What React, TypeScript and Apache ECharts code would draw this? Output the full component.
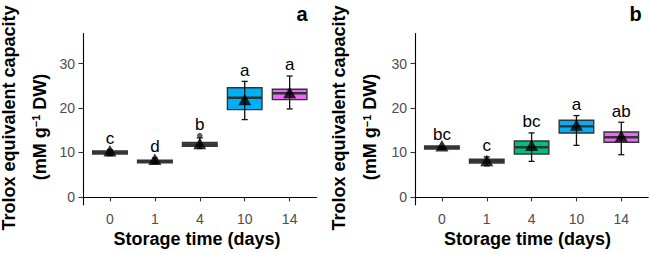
import React, { useEffect, useRef } from "react";
import * as echarts from "echarts";

// Storage days shown on the x axis
const days = ["0", "1", "4", "10", "14"];
// Fill colour per storage day
const dayFills = ["#F8766D", "#A3A500", "#00BF7D", "#00B0F6", "#E76BF3"];
const yTicks = [0, 10, 20, 30];

// Panel a: box statistics, error bars, means, letters, outliers
const q1A = [9.65, 7.65, 11.4, 19.65, 21.89];
const medianA = [10.0, 7.95, 11.8, 22.3, 23.3];
const q3A = [10.35, 8.26, 12.23, 24.55, 24.23];
const errLowA = [9.3, 7.5, 10.9, 17.4, 19.8];
const errHighA = [10.65, 8.75, 13.3, 26.0, 27.2];
const meanA = [10.4, 8.45, 12.0, 21.9, 23.5];
const lettersA = ["c", "d", "b", "a", "a"];
const outlierDayA = ["4"];
const outlierValueA = [13.8];

// Panel b
const q1B = [10.8, 7.64, 9.67, 14.39, 12.3];
const medianB = [11.13, 8.05, 11.2, 15.9, 13.4];
const q3B = [11.47, 8.47, 12.6, 17.25, 14.62];
const errLowB = [10.7, 7.0, 8.0, 11.6, 9.5];
const errHighB = [11.3, 9.0, 14.4, 18.3, 16.8];
const meanB = [11.5, 8.2, 11.6, 16.2, 13.7];
const lettersB = ["bc", "c", "bc", "a", "ab"];
const outlierDayB: string[] = [];
const outlierValueB: number[] = [];

const FONT = "Liberation Sans, Arial, Helvetica, sans-serif";
const BOX_LINE = "#333333";
const TICK_TEXT = "#4D4D4D";

type Panel = {
  q1: number[];
  median: number[];
  q3: number[];
  low: number[];
  high: number[];
  mean: number[];
  letters: string[];
  outDays: string[];
  outValues: number[];
};

const panels: Panel[] = [
  {
    q1: q1A, median: medianA, q3: q3A, low: errLowA, high: errHighA,
    mean: meanA, letters: lettersA, outDays: outlierDayA, outValues: outlierValueA,
  },
  {
    q1: q1B, median: medianB, q3: q3B, low: errLowB, high: errHighB,
    mean: meanB, letters: lettersB, outDays: outlierDayB, outValues: outlierValueB,
  },
];

function buildOption() {
  const grids = [
    { left: 83, top: 33.6, width: 233.6, height: 171.1 },
    { left: 415, top: 33.6, width: 233.2, height: 171.1 },
  ];

  const xAxes = grids.map((_, gi) => ({
    type: "value",
    gridIndex: gi,
    min: 0.4,
    max: 5.6,
    axisLine: { show: true, lineStyle: { color: "#000", width: 1.1 } },
    axisTick: {
      show: true,
      length: 4.5,
      customValues: days.map((_, i) => i + 1),
      lineStyle: { color: "#333", width: 1.1 },
    },
    axisLabel: {
      customValues: days.map((_, i) => i + 1),
      formatter: (v: number) => days[Math.round(v) - 1] ?? "",
      color: TICK_TEXT,
      fontSize: 14,
      fontFamily: FONT,
      margin: 7,
    },
    splitLine: { show: false },
  }));

  const yAxes = grids.map((_, gi) => ({
    type: "value",
    gridIndex: gi,
    min: -1.75,
    max: 36.75,
    axisLine: { show: true, lineStyle: { color: "#000", width: 1.1 } },
    axisTick: {
      show: true,
      length: 4.5,
      customValues: yTicks,
      lineStyle: { color: "#333", width: 1.1 },
    },
    axisLabel: {
      customValues: yTicks,
      color: TICK_TEXT,
      fontSize: 14,
      fontFamily: FONT,
      margin: 8,
    },
    splitLine: { show: false },
  }));

  const series: any[] = [];
  panels.forEach((p, gi) => {
    // highest outlier per day, used to lift the letter above it
    const outTop = days.map((d) => {
      const vals = p.outValues.filter((_, k) => p.outDays[k] === d);
      return vals.length ? Math.max(...vals) : -Infinity;
    });
    const boxData = days.map((_, i) => [
      i + 1, p.q1[i], p.median[i], p.q3[i], p.low[i], p.high[i],
      Math.max(p.q3[i], p.high[i], outTop[i]),
    ]);
    series.push({
      type: "custom",
      xAxisIndex: gi,
      yAxisIndex: gi,
      z: 2,
      encode: { x: 0, y: [1, 2, 3, 4, 5] },
      data: boxData,
      renderItem: (params: any, api: any) => {
        const i = params.dataIndex;
        const x = api.value(0);
        const [cx, yQ1] = api.coord([x, api.value(1)]);
        const yMed = api.coord([x, api.value(2)])[1];
        const yQ3 = api.coord([x, api.value(3)])[1];
        const yLo = api.coord([x, api.value(4)])[1];
        const yHi = api.coord([x, api.value(5)])[1];
        const yTop = api.coord([x, api.value(6)])[1];
        const w = api.size([0.77, 0])[0];
        const cap = 3;
        const errStyle = { stroke: "#111", lineWidth: 1.3 };
        return {
          type: "group",
          children: [
            {
              type: "rect",
              shape: { x: cx - w / 2, y: yQ3, width: w, height: yQ1 - yQ3 },
              style: { fill: dayFills[i], stroke: BOX_LINE, lineWidth: 1.4 },
            },
            {
              type: "line",
              shape: { x1: cx - w / 2, y1: yMed, x2: cx + w / 2, y2: yMed },
              style: { stroke: BOX_LINE, lineWidth: 2.5 },
            },
            { type: "line", shape: { x1: cx, y1: yLo, x2: cx, y2: yHi }, style: errStyle },
            { type: "line", shape: { x1: cx - cap, y1: yLo, x2: cx + cap, y2: yLo }, style: errStyle },
            { type: "line", shape: { x1: cx - cap, y1: yHi, x2: cx + cap, y2: yHi }, style: errStyle },
            {
              type: "text",
              x: cx,
              y: yTop - 5.2 - 5.9,
              style: {
                text: p.letters[i],
                font: `17px ${FONT}`,
                fill: "#000",
                align: "center",
                verticalAlign: "middle",
              },
            },
          ],
        };
      },
    });
    series.push({
      type: "scatter",
      xAxisIndex: gi,
      yAxisIndex: gi,
      z: 3,
      symbol: "circle",
      symbolSize: 5.5,
      itemStyle: { color: BOX_LINE },
      data: p.outValues.map((v, k) => [days.indexOf(p.outDays[k]) + 1, v]),
    });
    series.push({
      type: "scatter",
      xAxisIndex: gi,
      yAxisIndex: gi,
      z: 4,
      symbol: "triangle",
      symbolSize: [13, 11.5],
      itemStyle: { color: "#000" },
      data: p.mean.map((m, i) => [i + 1, m]),
    });
  });

  const yTitle = (x1: number, x2: number) => [
    {
      type: "text",
      x: x1,
      y: 118,
      rotation: Math.PI / 2,
      style: {
        text: "Trolox equivalent capacity",
        font: `bold 18px ${FONT}`,
        fill: "#000",
        align: "center",
        verticalAlign: "middle",
      },
    },
    {
      type: "text",
      x: x2,
      y: 127,
      rotation: Math.PI / 2,
      style: {
        text: "(mM g{sup|\u22121} DW)",
        font: `bold 18px ${FONT}`,
        fill: "#000",
        align: "center",
        verticalAlign: "middle",
        rich: {
          sup: { fontSize: 11, fontWeight: "bold", fontFamily: FONT, verticalAlign: "top", fill: "#000" },
        },
      },
    },
  ];

  const xTitle = (cx: number) => ({
    type: "text",
    x: cx,
    y: 238.8,
    style: {
      text: "Storage time (days)",
      font: `bold 18px ${FONT}`,
      fill: "#000",
      align: "center",
      verticalAlign: "middle",
    },
  });

  const tag = (cx: number, t: string) => ({
    type: "text",
    x: cx,
    y: 13.8,
    style: {
      text: t,
      font: `bold 20px ${FONT}`,
      fill: "#000",
      align: "center",
      verticalAlign: "middle",
    },
  });

  return {
    animation: false,
    backgroundColor: "#fff",
    grid: grids,
    xAxis: xAxes,
    yAxis: yAxes,
    series,
    graphic: [
      ...yTitle(9, 39.5),
      ...yTitle(338.5, 370),
      xTitle(197),
      xTitle(527.5),
      tag(302, "a"),
      tag(635.7, "b"),
    ],
  };
}

export default function App() {
  const ref = useRef<HTMLDivElement>(null);
  useEffect(() => {
    if (!ref.current) return;
    const chart = echarts.init(ref.current, undefined, { renderer: "svg" });
    chart.setOption(buildOption() as any);
    return () => chart.dispose();
  }, []);
  return (
    <div
      ref={ref}
      style={{ width: 650, height: 253, position: "absolute", left: 0, top: 0, background: "#fff" }}
    />
  );
}
